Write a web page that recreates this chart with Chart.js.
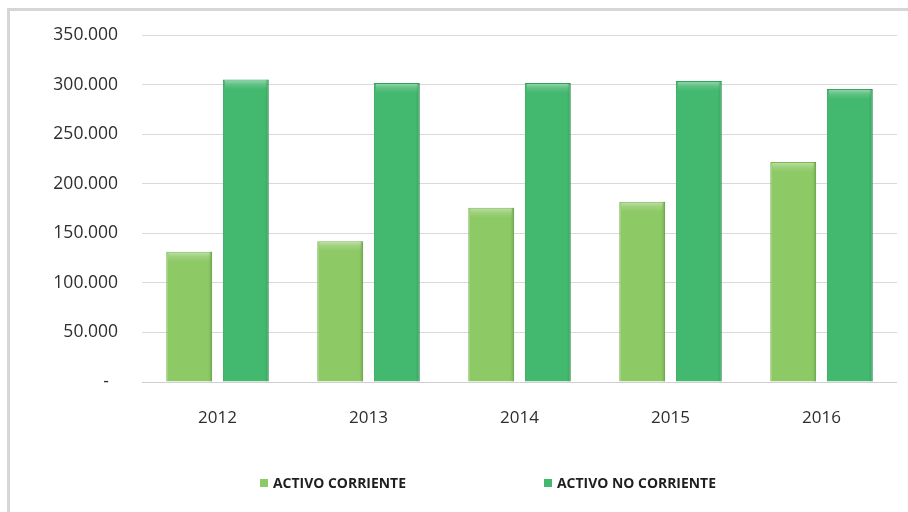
<!DOCTYPE html>
<html>
<head>
<meta charset="utf-8">
<script src="https://cdn.jsdelivr.net/npm/chart.js@4/dist/chart.umd.min.js"></script>
<style>
  html, body { margin: 0; padding: 0; background: #ffffff; }
  #wrap { position: relative; width: 908px; height: 512px; }
</style>
</head>
<body>
<div id="wrap"><canvas id="c" width="908" height="512"></canvas></div>
<script>
const years = ['2012', '2013', '2014', '2015', '2016'];
const activoCorriente = [131500, 142000, 175800, 181800, 222000];
const activoNoCorriente = [305000, 301600, 301600, 303600, 295600];
const seriesNames = ['ACTIVO CORRIENTE', 'ACTIVO NO CORRIENTE'];
const yTicks = [0, 50000, 100000, 150000, 200000, 250000, 300000, 350000];

const lightGreen = '#8dc965';
const darkGreen = '#43b86f';

function fmt(v) {
  if (v === 0) return '-  ';
  return v.toLocaleString('de-DE');
}

const framePlugin = {
  id: 'frame',
  beforeDraw(chart) {
    const ctx = chart.ctx;
    ctx.save();
    ctx.fillStyle = '#ffffff';
    ctx.fillRect(0, 0, chart.width, chart.height);
    ctx.fillStyle = '#d6d6d6';
    ctx.fillRect(7, 8, chart.width - 7, 3);
    ctx.fillRect(7, 8, 3, chart.height - 8);
    ctx.restore();
  }
};

const bevelPlugin = {
  id: 'bevel',
  afterDatasetsDraw(chart) {
    const ctx = chart.ctx;
    ctx.save();
    chart.data.datasets.forEach((ds, di) => {
      const meta = chart.getDatasetMeta(di);
      meta.data.forEach(bar => {
        const left = bar.x - bar.width / 2;
        const w = bar.width;
        const top = bar.y;
        const g = ctx.createLinearGradient(0, top, 0, top + 10);
        g.addColorStop(0, 'rgba(255,255,255,0.45)');
        g.addColorStop(0.5, 'rgba(255,255,255,0.15)');
        g.addColorStop(1, 'rgba(255,255,255,0)');
        ctx.fillStyle = g;
        ctx.fillRect(left + 2, top + 1, w - 4, 10);
        const gr = ctx.createLinearGradient(left + w - 4, 0, left + w, 0);
        gr.addColorStop(0, 'rgba(0,60,0,0)');
        gr.addColorStop(1, 'rgba(0,60,0,0.18)');
        ctx.fillStyle = gr;
        ctx.fillRect(left + w - 4, top, 4, bar.base - top);
      });
    });
    ctx.restore();
  }
};

const legendPlugin = {
  id: 'customLegend',
  afterDraw(chart) {
    const ctx = chart.ctx;
    const items = [
      { x: 260, maxW: 133 },
      { x: 544, maxW: 159 }
    ];
    ctx.save();
    ctx.font = 'bold 15px "Open Sans", "Liberation Sans", sans-serif';
    ctx.textBaseline = 'middle';
    ctx.textAlign = 'left';
    chart.data.datasets.forEach((ds, i) => {
      const it = items[i];
      const y = 483;
      ctx.fillStyle = ds.backgroundColor;
      ctx.fillRect(it.x, y - 4, 8, 8);
      ctx.fillStyle = '#1f1f1f';
      ctx.fillText(ds.label, it.x + 13, y + 1, it.maxW);
    });
    ctx.restore();
  }
};

new Chart(document.getElementById('c'), {
  type: 'bar',
  data: {
    labels: years,
    datasets: [
      {
        label: seriesNames[0],
        data: activoCorriente,
        backgroundColor: lightGreen,
        borderColor: '#76b350',
        borderWidth: 1,
        categoryPercentage: 0.75,
        barPercentage: 0.81
      },
      {
        label: seriesNames[1],
        data: activoNoCorriente,
        backgroundColor: darkGreen,
        borderColor: '#2ea35b',
        borderWidth: 1,
        categoryPercentage: 0.75,
        barPercentage: 0.81
      }
    ]
  },
  options: {
    responsive: false,
    animation: false,
    devicePixelRatio: 1,
    layout: { padding: { left: 0, top: 35, right: 11, bottom: 80 } },
    plugins: {
      legend: { display: false },
      tooltip: { enabled: false },
      title: { display: false }
    },
    scales: {
      x: {
        grid: { display: false },
        border: { display: false },
        ticks: {
          padding: 18,
          color: '#2e2e2e',
          font: { family: '"Open Sans", "Liberation Sans", sans-serif', size: 17 }
        },
        afterFit(scale) { scale.height = 50; }
      },
      y: {
        min: 0,
        max: 350000,
        afterBuildTicks(scale) { scale.ticks = yTicks.map(v => ({ value: v })); },
        grid: {
          color: (c) => c.tick && c.tick.value === 0 ? '#cfcfcf' : '#d9d9d9',
          lineWidth: 1,
          drawTicks: false
        },
        border: { display: false },
        ticks: {
          padding: 24,
          color: '#2e2e2e',
          font: { family: '"Open Sans", "Liberation Sans", sans-serif', size: 17.5 },
          callback: (v) => fmt(v)
        },
        afterFit(scale) { scale.width = 142; }
      }
    }
  },
  plugins: [framePlugin, bevelPlugin, legendPlugin]
});
</script>
</body>
</html>
